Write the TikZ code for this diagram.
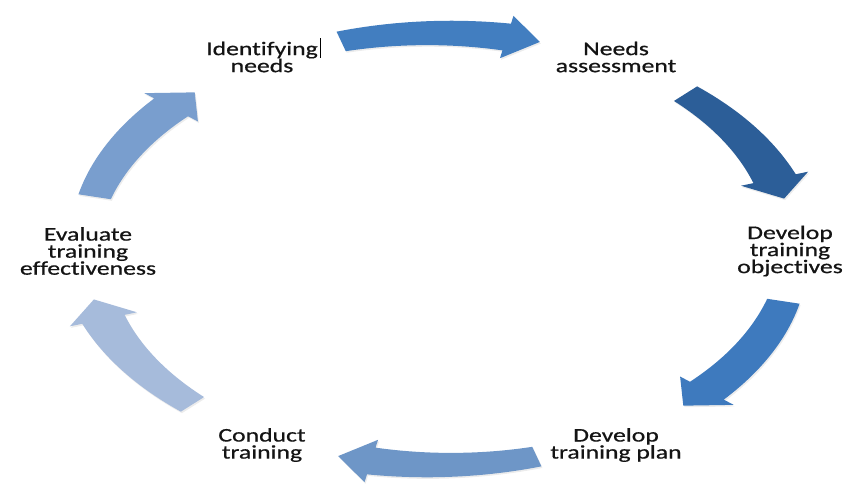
\documentclass[tikz,border=0pt]{standalone}
\usepackage{fontspec}
\setmainfont{Carlito}[Ligatures=CommonOff]
\newfontfamily\stagefont{Carlito}[Ligatures=CommonOff, FakeBold=0.6]
\usetikzlibrary{shadows}

\definecolor{arrA}{RGB}{66,126,192}
\definecolor{arrB}{RGB}{44,94,152}
\definecolor{arrC}{RGB}{62,122,190}
\definecolor{arrD}{RGB}{110,150,199}
\definecolor{arrE}{RGB}{166,187,219}
\definecolor{arrF}{RGB}{121,158,206}
\definecolor{labeltext}{RGB}{20,20,20}

\begin{document}
\begin{tikzpicture}[x=0.02cm, y=-0.02cm]

%-------------------------------------------------
% Styles
%-------------------------------------------------
\tikzset{
  stage/.style={align=center, text=labeltext, inner sep=0pt,
                font={\stagefont\fontsize{11}{9.7}\selectfont},
                xscale=1.33, transform shape},
  cycarrow/.style={drop shadow={opacity=0.15, shadow xshift=0.6pt, shadow yshift=-0.9pt}}
}

\useasboundingbox (0,0) rectangle (851,488);

%-------------------------------------------------
% Stage labels
%-------------------------------------------------
\node[stage] (ident)      at (262,57)  {Identifying\\needs};
\node[stage] (assess)     at (616,57)  {Needs\\assessment};
\node[stage] (objectives) at (790,251) {Develop\\training\\objectives};
\node[stage] (plan)       at (616,445) {Develop\\training plan};
\node[stage] (conduct)    at (262,445) {Conduct\\training};
\node[stage] (evaluate)   at (88,251)  {Evaluate\\training\\effectiveness};

% text cursor left after Identifying
\draw[line width=0.5pt] (320.5,38) -- (320.5,58);

%-------------------------------------------------
% Curved block arrows on the cycle
%-------------------------------------------------
\begin{scope}[shift={(439,249)}, x=7.1cm, y=4.32cm]
\foreach \ang/\col in {90/arrA, 30/arrB, -30/arrC, -90/arrD, -150/arrE, 150/arrF} {
  \pgfmathsetmacro\ta{\ang+16}
  \pgfmathsetmacro\tb{\ang-11}
  \pgfmathsetmacro\tc{\ang-16.5}
  \fill[\col, cycarrow]
    plot[domain=\ta:\tb, samples=25, variable=\t] (\t:{1.047+0.016*(\ta-\t)/27})
    -- (\tb:1.10) -- (\tc:1) -- (\tb:0.90)
    -- plot[domain=\tb:\ta, samples=25, variable=\t] (\t:{0.953-0.016*(\ta-\t)/27})
    -- cycle;
}
\end{scope}

\end{tikzpicture}
\end{document}
